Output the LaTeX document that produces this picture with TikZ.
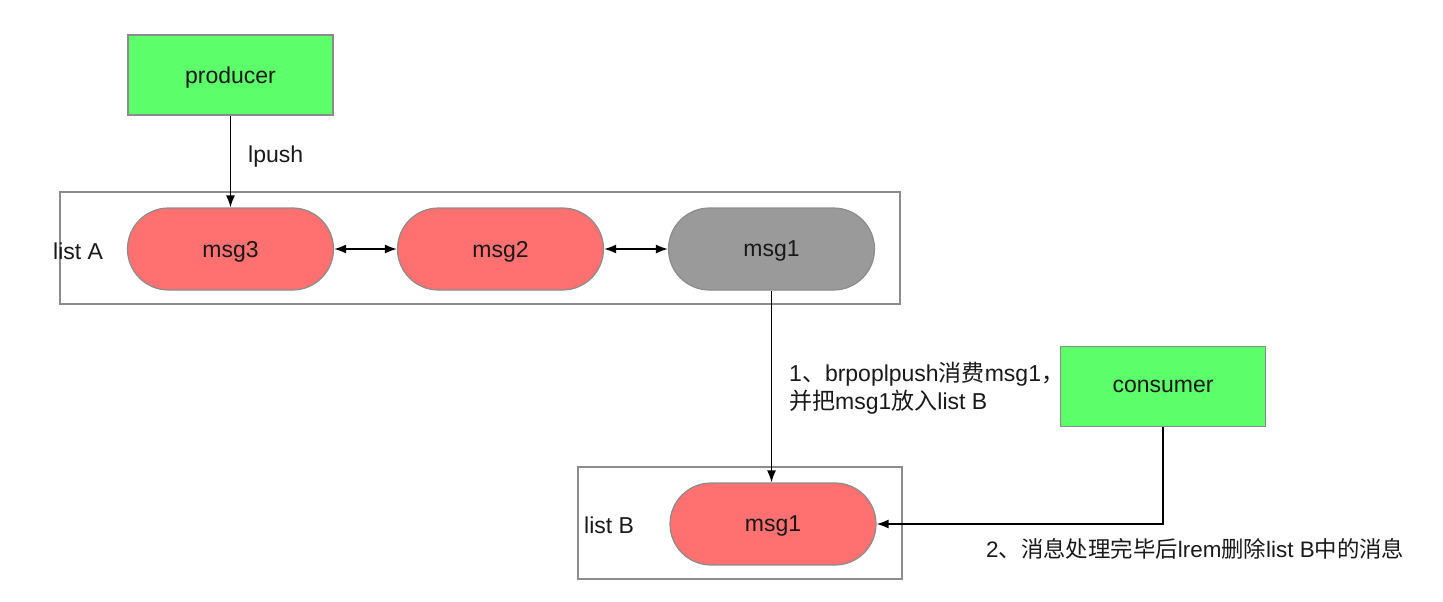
\documentclass[tikz,border=0pt]{standalone}
\usepackage{fontspec}
\setmainfont{Liberation Sans}
\newfontfamily\cjk{Noto Sans CJK SC}
\usetikzlibrary{arrows.meta,shapes.misc}
\definecolor{boxgreen}{HTML}{5CFF6A}
\definecolor{msgred}{HTML}{FF7070}
\definecolor{msggray}{HTML}{9A9A9A}
\definecolor{edgegray}{HTML}{8C8C8C}
\begin{document}
\begin{tikzpicture}[x=1pt,y=-1pt,
  every node/.style={font=\fontsize{23}{29}\selectfont, text=black!90},
  actor/.style={draw=edgegray, line width=1.5pt, fill=boxgreen, minimum width=205pt, minimum height=80pt, inner sep=0pt, text depth=0pt},
  msgbox/.style={draw=edgegray, line width=1.2pt, rounded rectangle, minimum width=206pt, minimum height=82pt, inner sep=0pt, text depth=0pt},
  listbox/.style={draw=edgegray, line width=1.5pt, fill=none, inner sep=0pt},
  conn/.style={line width=1.6pt, draw=black, -{Latex[length=12pt,width=9pt]}},
  dconn/.style={line width=1.6pt, draw=black, {Latex[length=12pt,width=9pt]}-{Latex[length=12pt,width=9pt]}},
  lbl/.style={inner sep=0pt, align=left}
]
\useasboundingbox (0,0) rectangle (1443,602);
% containers
\node[listbox, minimum width=840pt, minimum height=112pt] (listA) at (480,248) {};
\node[listbox, minimum width=324pt, minimum height=112pt] (listB) at (740,523) {};
\node[lbl, anchor=west] (labA) at (53,251) {list A};
\node[lbl, anchor=west] (labB) at (584,525) {list B};
% actors
\node[actor] (producer) at (230.5,75) {producer};
\node[actor] (consumer) at (1163,386.5) {consumer};
% messages
\node[msgbox, fill=msgred] (msg3) at (230.5,249) {msg3};
\node[msgbox, fill=msgred] (msg2) at (500.5,249) {msg2};
\node[msgbox, fill=msggray] (msg1) at (771.5,249) {msg1};
\node[msgbox, fill=msgred] (msg1b) at (773,524) {msg1};
% connectors
\draw[conn] (producer.south) -- (msg3.north);
\node[lbl, anchor=west] (lpush) at (248,157) {lpush};
\draw[dconn] (msg3.east) -- (msg2.west);
\draw[dconn] (msg2.east) -- (msg1.west);
\draw[conn] (msg1.south) -- (msg1.south |- msg1b.north);
\node[lbl, anchor=north west] (step1) at (789,362) {1{\cjk 、}brpoplpush{\cjk 消费}msg1{\cjk ，}\\[-1pt]{\cjk 并把}msg1{\cjk 放入}list B};
\coordinate (bend) at (consumer.south |- msg1b.east);
\draw[conn] (consumer.south) -- (bend) -- (msg1b.east);
\node[lbl, anchor=west, font=\fontsize{22.4}{29}\selectfont] (step2) at (986,549) {2{\cjk 、消息处理完毕后}lrem{\cjk 删除}list B{\cjk 中的消息}};
\end{tikzpicture}
\end{document}
